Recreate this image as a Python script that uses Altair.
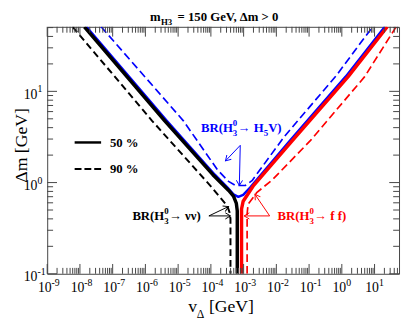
import math
import altair as alt
import pandas as pd

# ---------------- data ----------------
# black solid : BR(H3 -> nu nu) = 50 %
bs_v = [1.37e-8, 3.9e-6, 1.15e-4, 3.5e-4, 4.9e-4, 6.0e-4, 6.4e-4, 6.4e-4]
bs_m = [51, 4.75, 1.22, 0.82, 0.71, 0.59, 0.49, 0.1]
# black dashed : BR(H3 -> nu nu) = 90 %
bd_v = [6.0e-9, 1.6e-6, 1.0e-4, 3.16e-4, 3.7e-4, 3.97e-4, 3.97e-4]
bd_m = [51, 4.75, 0.91, 0.556, 0.475, 0.40, 0.1]
# red solid : BR(H3 -> f f) = 50 %
rs_v = [8.65e-4, 8.65e-4, 9.7e-4, 1.94e-3, 0.0312, 1.56, 24.5]
rs_m = [0.1, 0.513, 0.625, 0.912, 2.90, 14.5, 51]
# red dashed : BR(H3 -> f f) = 90 %
rd_v = [1.28e-3, 1.28e-3, 1.37e-3, 2.5e-3, 7.7e-3, 0.111, 5.0, 45.6]
rd_m = [0.1, 0.453, 0.579, 0.774, 1.08, 2.90, 14.5, 51]
# blue solid : BR(H3 -> H5 V) = 50 %
bls_v = [1.58e-8, 4.5e-6, 1.32e-4, 3.23e-4, 4.89e-4, 6.89e-4, 9.73e-4, 1.58e-3, 0.0266, 1.31, 20.6]
bls_m = [51, 4.75, 1.22, 0.883, 0.743, 0.698, 0.734, 0.883, 2.90, 14.5, 51]
# blue dashed : BR(H3 -> H5 V) = 90 %
bld_v = [4.44e-8, 1.45e-5, 1.59e-4, 3.46e-4, 5.61e-4, 1.12e-3, 1.81e-3, 0.0176, 0.679, 8.71]
bld_m = [51, 4.75, 1.38, 1.03, 0.929, 0.929, 1.05, 3.20, 14.9, 51]

# axis ranges and ticks
XMIN, XMAX = 1e-9, 56.0
YMIN, YMAX = 0.1, 51.0
x_exps = list(range(-9, 2))
y_exps = [-1, 0, 1]
x_major = [10.0 ** e for e in x_exps]
x_minor = [k * 10.0 ** e for e in x_exps for k in range(2, 10) if k * 10.0 ** e <= XMAX]
y_major = [10.0 ** e for e in y_exps]
y_minor = [k * 10.0 ** e for e in y_exps for k in range(2, 10) if k * 10.0 ** e <= YMAX]

# annotation arrows (data coordinates): start v, start m, end v, end m, colour
arr_v1 = [7.9e-4, 7.9e-4, 8.7e-5, 8.7e-5, 6.25e-3, 6.25e-3]
arr_m1 = [2.56, 2.56, 0.431, 0.431, 0.431, 0.431]
arr_v2 = [7.4e-4, 2.8e-4, 3.46e-4, 3.97e-4, 1.04e-3, 2.22e-3]
arr_m2 = [0.929, 1.73, 0.546, 0.431, 0.431, 0.743]
arr_c = ["#0000ff", "#0000ff", "black", "black", "#ff0000", "#ff0000"]

# annotation label anchors (data coordinates)
lab_blue = (5.0e-5, 3.62)
lab_black = (4.0e-7, 0.390)
lab_red = (1.09e-2, 0.390)

# ---------------- chart ----------------
W, H = 359, 252
FONT = "Liberation Serif"
AX = "#444444"
BLUE, RED = "#0000ff", "#ff0000"
xs = alt.Scale(type="log", domain=[XMIN, XMAX], nice=False)
ys = alt.Scale(type="log", domain=[YMIN, YMAX], nice=False)
KX = W / (math.log10(XMAX) - math.log10(XMIN))
KY = H / (math.log10(YMAX) - math.log10(YMIN))

X = lambda f: alt.X(f, type="quantitative", scale=xs, axis=None)
Y = lambda f: alt.Y(f, type="quantitative", scale=ys, axis=None)
one = alt.Data(values=[{"a": 1}])

layers = []


def line_layer(v, m, color, width, dash=None):
    df = pd.DataFrame({"v": v, "m": m, "i": list(range(len(v)))})
    kw = dict(color=color, strokeWidth=width, clip=True, strokeJoin="round")
    if dash:
        kw["strokeDash"] = dash
    return alt.Chart(df).mark_line(**kw).encode(x=X("v"), y=Y("m"), order="i:Q")


layers += [
    line_layer(bld_v, bld_m, BLUE, 1.7, [8, 4]),
    line_layer(bd_v, bd_m, "black", 2, [7, 4]),
    line_layer(rd_v, rd_m, RED, 1.7, [8, 4]),
    line_layer(bls_v, bls_m, BLUE, 2.5),
    line_layer(bs_v, bs_m, "black", 3.5),
    line_layer(rs_v, rs_m, RED, 3.5),
]


# ticks (inside, mirrored)
def xticks(vals, length):
    base = alt.Chart(pd.DataFrame({"v": vals})).mark_rule(color=AX, strokeWidth=1)
    return [base.encode(x=X("v"), y=alt.value(H), y2=alt.value(H - length)),
            base.encode(x=X("v"), y=alt.value(0), y2=alt.value(length))]


def yticks(vals, length):
    base = alt.Chart(pd.DataFrame({"m": vals})).mark_rule(color=AX, strokeWidth=1)
    return [base.encode(y=Y("m"), x=alt.value(0), x2=alt.value(length)),
            base.encode(y=Y("m"), x=alt.value(W), x2=alt.value(W - length))]


layers += xticks(x_major, 10) + xticks(x_minor, 6) + yticks(y_major, 10) + yticks(y_minor, 6)

# tick labels 10^n
xl = pd.DataFrame({"v": x_major, "b": ["10"] * len(x_major), "e": [str(e) for e in x_exps]})
layers.append(alt.Chart(xl).mark_text(font=FONT, fontSize=14, align="right", baseline="alphabetic", dx=4.5)
              .encode(x=X("v"), y=alt.value(H + 19), text="b:N"))
layers.append(alt.Chart(xl).mark_text(font=FONT, fontSize=10, align="left", baseline="alphabetic", dx=4.5)
              .encode(x=X("v"), y=alt.value(H + 12), text="e:N"))
yl = pd.DataFrame({"m": y_major, "b": ["10"] * len(y_major), "e": [str(e) for e in y_exps]})
layers.append(alt.Chart(yl).mark_text(font=FONT, fontSize=14, align="right", baseline="alphabetic", dy=7.5)
              .encode(y=Y("m"), x=alt.value(-10), text="b:N"))
layers.append(alt.Chart(yl).mark_text(font=FONT, fontSize=10, align="left", baseline="alphabetic", dy=1)
              .encode(y=Y("m"), x=alt.value(-10), text="e:N"))


def txt(t, x, y, size, bold=False, color="black", angle=None, align="left"):
    kw = dict(text=t, font=FONT, fontSize=size, fontWeight="bold" if bold else "normal",
              color=color, align=align, baseline="alphabetic")
    if angle is not None:
        kw["angle"] = angle
    return alt.Chart(one).mark_text(**kw).encode(x=alt.value(x), y=alt.value(y))


# title  m_H3 = 150 GeV, Δm > 0
layers += [txt("m", 105, -6, 13, True), txt("H3", 116, -1.5, 9, True),
           txt("= 150 GeV, Δm > 0", 133, -6, 13, True)]
# axis titles
layers += [txt("v", 144, H + 39, 18), txt("Δ", 152.5, H + 45, 12), txt("[GeV]", 165, H + 39, 18)]
layers.append(txt("Δm [GeV]", -21, 121, 18, angle=270, align="center"))

# legend
layers.append(alt.Chart(one).mark_rule(color="black", strokeWidth=2.5)
              .encode(x=alt.value(28), x2=alt.value(55), y=alt.value(118)))
layers.append(alt.Chart(one).mark_rule(color="black", strokeWidth=2, strokeDash=[7, 3])
              .encode(x=alt.value(28), x2=alt.value(55), y=alt.value(145)))
layers += [txt("50 %", 64, 122.5, 13, True), txt("90 %", 64, 149.5, 13, True)]


# annotation labels with sub/superscripts
def label(anchor, segs, color):
    v, m = anchor
    d = alt.Data(values=[{"v": v, "m": m}])
    out = []
    for t, dx, dy, size in segs:
        out.append(alt.Chart(d).mark_text(text=t, font=FONT, fontSize=size, fontWeight="bold",
                                          color=color, align="left", baseline="alphabetic",
                                          dx=dx, dy=dy)
                   .encode(x=X("v"), y=Y("m")))
    return out


head = [("BR(H", 0, 0, 13), ("3", 32.5, 4, 9), ("0", 32.5, -6, 9)]
layers += label(lab_blue, head + [("→ H", 37.5, 0, 13), ("5", 64, 4, 9), ("V)", 68.5, 0, 13)], BLUE)
layers += label(lab_black, head + [("→ νν)", 37.5, 0, 13)], "black")
layers += label(lab_red, head + [("→ f f)", 37.5, 0, 13)], RED)

# arrows
ang = []
for a, b, c, d in zip(arr_v1, arr_m1, arr_v2, arr_m2):
    dxp = (math.log10(c) - math.log10(a)) * KX
    dyp = -(math.log10(d) - math.log10(b)) * KY
    ang.append(math.degrees(math.atan2(dyp, dxp)) % 360)
adf = pd.DataFrame({"v1": arr_v1, "m1": arr_m1, "v2": arr_v2, "m2": arr_m2, "c": arr_c, "a": ang})
layers.append(alt.Chart(adf).mark_rule(strokeWidth=1).encode(
    x=X("v1"), y=Y("m1"), x2="v2:Q", y2="m2:Q", color=alt.Color("c:N", scale=None)))
layers.append(alt.Chart(adf).mark_point(shape="M-1,-0.6L0,0L-1,0.6", size=110, filled=False,
                                        strokeWidth=1, opacity=1).encode(
    x=X("v2"), y=Y("m2"), angle=alt.Angle("a:Q", scale=None), color=alt.Color("c:N", scale=None)))

chart = alt.layer(*layers).properties(
    width=W, height=H, autosize="none",
    padding={"left": 40, "top": 16, "right": 2, "bottom": 46},
).configure_view(stroke=AX, strokeWidth=1)

chart.save("out.html", embed_options={"renderer": "svg", "actions": False})
